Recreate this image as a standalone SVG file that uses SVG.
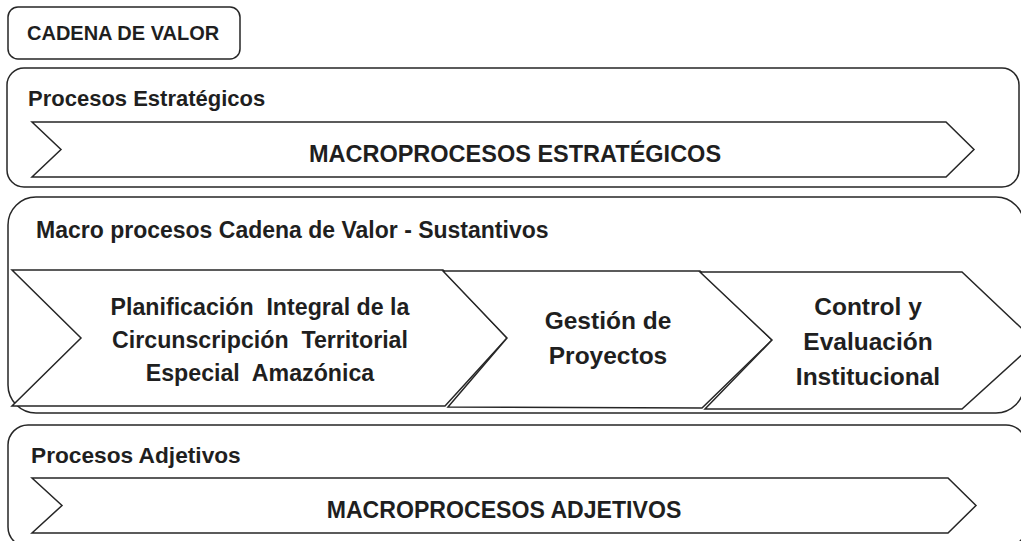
<svg xmlns="http://www.w3.org/2000/svg" width="1021" height="541" viewBox="0 0 1021 541">
<style>
.box{fill:#ffffff;stroke:#262626;stroke-width:1.5}
.chev{fill:#ffffff;stroke:#262626;stroke-width:1.5;stroke-linejoin:miter}
.t{font-family:"Liberation Sans",Arial,sans-serif;font-weight:bold;fill:#1f1f1f}
.c{text-anchor:middle}
</style>
<rect width="1021" height="541" fill="#ffffff"/>
<g id="title">
<rect class="box" x="8" y="7" width="232" height="52" rx="10"/>
<text class="t" x="27" y="40" font-size="20">CADENA DE VALOR</text>
</g>
<g id="panel-estrategicos">
<rect class="box" x="7" y="68" width="1012" height="119" rx="17"/>
<text class="t" x="28" y="106" font-size="22">Procesos Estratégicos</text>
<g id="macro-estrategicos">
<polygon class="chev" points="32,122 946,122 974,149.5 946,177 32,177 61,149.5"/>
<text class="t c" x="515" y="162" font-size="23.5" xml:space="preserve">MACROPROCESOS ESTRATÉGICOS</text>
</g>
</g>
<g id="panel-sustantivos">
<rect class="box" x="8" y="197" width="1016" height="216" rx="28"/>
<text class="t" x="36" y="238" font-size="23">Macro procesos Cadena de Valor - Sustantivos</text>
<g id="planificacion">
<polygon class="chev" points="12,270 443,270 507,338 445,406 12,406 81,338"/>
<text class="t c" font-size="23.2" xml:space="preserve"><tspan x="260" y="315">Planificación  Integral de la</tspan><tspan x="260" y="348">Circunscripción  Territorial</tspan><tspan x="260" y="381">Especial  Amazónica</tspan></text>
</g>
<g id="gestion">
<polygon class="chev" points="443,271 700,271 772,340 702,408 448,407 507,338"/>
<text class="t c" font-size="24.5"><tspan x="608" y="329">Gestión de</tspan><tspan x="608" y="364">Proyectos</tspan></text>
</g>
<g id="control">
<polygon class="chev" points="700,272 962,272 1036,342 962,409 705,409 772,340"/>
<text class="t c" font-size="24.5"><tspan x="868" y="315">Control y</tspan><tspan x="868" y="350">Evaluación</tspan><tspan x="868" y="385">Institucional</tspan></text>
</g>
</g>
<g id="panel-adjetivos">
<rect class="box" x="8" y="425" width="1018" height="122" rx="20"/>
<text class="t" x="31" y="463" font-size="22.7">Procesos Adjetivos</text>
<g id="macro-adjetivos">
<polygon class="chev" points="32,478 948,478 976,505.5 948,533 32,533 62,505.5"/>
<text class="t c" x="504" y="518" font-size="23.1">MACROPROCESOS ADJETIVOS</text>
</g>
</g>
<g id="connectors"/>
</svg>
